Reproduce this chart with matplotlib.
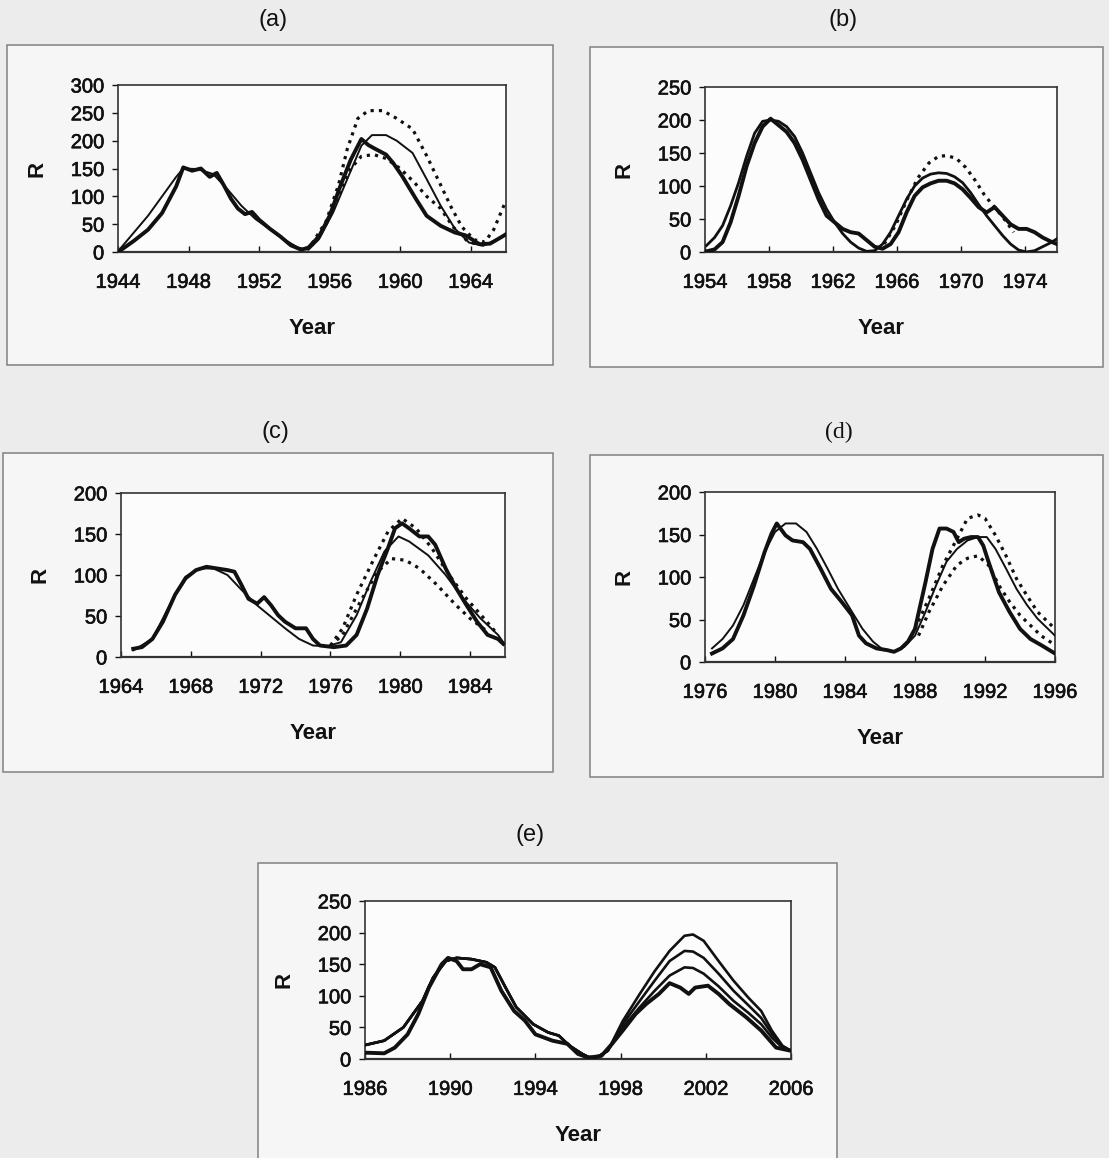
import matplotlib
matplotlib.use('Agg')
import matplotlib.pyplot as plt
import matplotlib.patheffects as pe
from matplotlib.patches import Rectangle

plt.rcParams['font.family'] = ['Liberation Sans', 'DejaVu Sans']

W, H = 1109, 1158

# ---- (a) 1944-1966 ----
a_obs_x = [1944.1, 1944.9, 1945.7, 1946.5, 1947.3, 1947.7, 1948.2, 1948.7, 1949.2, 1949.6,
           1950.0, 1950.4, 1950.8, 1951.2, 1951.6, 1952.0, 1952.6, 1953.2, 1953.8, 1954.4,
           1954.8, 1955.4, 1956.0, 1956.6, 1957.2, 1957.8, 1958.2, 1958.6, 1959.2, 1959.6,
           1960.1, 1960.9, 1961.5, 1962.3, 1963.1, 1963.7, 1964.5, 1965.1, 1965.8, 1966.0]
a_obs_y = [2, 20, 40, 70, 118, 152, 146, 150, 135, 142,
           120, 96, 78, 68, 72, 58, 42, 28, 12, 4,
           8, 28, 65, 118, 166, 203, 192, 185, 175, 160,
           137, 95, 65, 47, 35, 30, 14, 15, 28, 32]
a_rec_x = [1944.1, 1944.9, 1945.7, 1946.5, 1947.3, 1947.7, 1948.5, 1949.4, 1950.2, 1951.0,
           1951.8, 1952.6, 1953.4, 1954.2, 1954.8, 1955.4, 1956.2, 1957.0, 1957.8, 1958.4,
           1959.2, 1959.8, 1960.7, 1961.5, 1962.3, 1963.1, 1963.9, 1964.7, 1965.5, 1966.0]
a_rec_y = [5, 35, 65, 100, 135, 150, 149, 140, 113, 83,
           59, 41, 23, 8, 4, 23, 71, 131, 191, 210,
           210, 200, 178, 131, 83, 42, 17, 11, 23, 32]
a_up_x = [1955.0, 1955.8, 1956.5, 1957.0, 1957.6, 1958.2, 1959.0, 1959.8, 1960.7, 1961.5,
          1962.3, 1962.9, 1963.5, 1964.2, 1964.8, 1965.3, 1965.9]
a_up_y = [15, 55, 120, 185, 240, 254, 254, 240, 221, 173,
          120, 80, 45, 22, 18, 40, 85]
a_lo_x = [1955.0, 1955.8, 1956.5, 1957.2, 1957.8, 1958.5, 1959.2, 1960.0, 1960.8, 1961.5,
          1962.3, 1963.0, 1963.8, 1964.5]
a_lo_y = [12, 50, 100, 150, 172, 175, 168, 150, 125, 100,
          78, 45, 20, 12]

# ---- (b) 1954-1976 ----
b_x = [1954.1, 1954.6, 1955.1, 1955.6, 1956.1, 1956.6, 1957.1, 1957.6, 1958.1, 1958.6,
       1959.1, 1959.6, 1960.1, 1960.6, 1961.1, 1961.6, 1962.1, 1962.6, 1963.1, 1963.6,
       1964.1, 1964.6, 1965.1, 1965.6, 1966.1, 1966.6, 1967.1, 1967.6, 1968.1, 1968.6,
       1969.1, 1969.6, 1970.1, 1970.6, 1971.1, 1971.6, 1972.1, 1972.6, 1973.1, 1973.6,
       1974.1, 1974.6, 1975.1, 1975.6, 1976.0]
b_obs_y = [1, 4, 15, 45, 85, 130, 165, 190, 202, 192,
           182, 165, 140, 110, 80, 55, 45, 35, 30, 28,
           18, 8, 5, 12, 30, 60, 85, 98, 104, 108,
           108, 104, 95, 82, 68, 60, 68, 55, 42, 35,
           35, 30, 22, 16, 12]
b_rec_y = [10, 22, 40, 70, 105, 145, 180, 198, 200, 198,
           190, 175, 150, 120, 90, 65, 45, 28, 15, 6,
           1, 2, 12, 30, 55, 80, 100, 112, 118, 120,
           119, 114, 105, 90, 72, 55, 40, 25, 12, 3,
           0, 2, 8, 14, 20]
b_up_x = [1965.2, 1965.9, 1966.6, 1967.3, 1968.0, 1968.6, 1969.1, 1969.7, 1970.3, 1970.9,
          1971.5, 1972.1, 1972.7, 1973.3]
b_up_y = [12, 40, 78, 112, 135, 145, 146, 142, 128, 108,
          85, 68, 50, 30]

# ---- (c) 1964-1986 ----
c_obs_x = [1964.7, 1965.2, 1965.8, 1966.4, 1967.1, 1967.7, 1968.3, 1968.9, 1969.5, 1970.1,
           1970.5, 1970.9, 1971.3, 1971.8, 1972.2, 1972.6, 1973.0, 1973.4, 1974.0, 1974.6,
           1975.0, 1975.4, 1976.2, 1976.9, 1977.5, 1978.1, 1978.7, 1979.3, 1979.7, 1980.1,
           1980.5, 1981.1, 1981.6, 1982.0, 1982.6, 1983.2, 1983.8, 1984.4, 1985.0, 1985.6,
           1985.9]
c_obs_y = [10, 12, 22, 43, 76, 96, 106, 110, 108, 106,
           104, 88, 71, 65, 73, 63, 51, 43, 35, 35,
           22, 14, 12, 14, 27, 59, 100, 133, 157, 163,
           157, 147, 147, 137, 108, 84, 63, 43, 27, 22,
           16]
c_rec_x = [1964.7, 1965.8, 1966.4, 1967.1, 1967.7, 1968.5, 1969.3, 1970.1, 1970.9, 1971.8,
           1972.6, 1973.4, 1974.2, 1975.0, 1975.8, 1976.6, 1977.5, 1978.3, 1979.1, 1979.9,
           1980.5, 1981.6, 1982.6, 1983.6, 1984.6, 1985.6, 1985.9]
c_rec_y = [8, 22, 47, 76, 98, 108, 108, 100, 82, 63,
           49, 35, 22, 14, 13, 18, 51, 92, 129, 147,
           141, 124, 100, 71, 47, 27, 18]
c_up_x = [1976.0, 1976.7, 1977.5, 1978.5, 1979.3, 1980.1, 1980.9, 1981.8, 1982.8, 1983.8,
          1984.8, 1985.6]
c_up_y = [14, 35, 76, 120, 153, 169, 157, 133, 100, 71,
          47, 27]
c_lo_x = [1976.0, 1976.7, 1977.7, 1978.7, 1979.5, 1980.3, 1981.1, 1982.1, 1983.2, 1984.0,
          1985.0]
c_lo_y = [14, 27, 67, 104, 120, 118, 108, 88, 63, 47,
          31]

# ---- (d) 1976-1996 ----
d_obs_x = [1976.4, 1977.0, 1977.6, 1978.2, 1978.8, 1979.4, 1979.8, 1980.1, 1980.6, 1981.0,
           1981.6, 1982.0, 1982.6, 1983.2, 1983.8, 1984.4, 1984.8, 1985.2, 1985.8, 1986.4,
           1986.8, 1987.2, 1987.6, 1988.0, 1988.6, 1989.0, 1989.4, 1989.8, 1990.2, 1990.5,
           1990.8, 1991.2, 1991.6, 1991.9, 1992.2, 1992.8, 1993.4, 1994.0, 1994.6, 1995.2,
           1996.0]
d_obs_y = [10, 16, 27, 55, 90, 129, 151, 163, 149, 143,
           141, 133, 110, 86, 71, 55, 31, 22, 16, 14,
           12, 16, 24, 39, 94, 133, 157, 157, 153, 141,
           145, 147, 147, 137, 118, 82, 59, 39, 27, 20,
           10]
d_rec_x = [1976.4, 1977.0, 1977.6, 1978.2, 1978.8, 1979.4, 1980.0, 1980.6, 1981.2, 1981.8,
           1982.4, 1983.0, 1983.6, 1984.4, 1985.0, 1985.6, 1986.2, 1986.8, 1987.4, 1988.0,
           1988.6, 1989.2, 1989.8, 1990.4, 1991.0, 1991.6, 1992.1, 1992.6, 1993.2, 1993.8,
           1994.4, 1995.0, 1995.6, 1996.0]
d_rec_y = [16, 27, 43, 67, 98, 129, 153, 163, 163, 153,
           133, 110, 86, 59, 39, 24, 14, 12, 18, 31,
           59, 90, 118, 133, 143, 147, 147, 133, 110, 86,
           67, 51, 39, 31]
d_up_x = [1988.0, 1988.8, 1989.6, 1990.4, 1991.0, 1991.6, 1992.0, 1992.6, 1993.2, 1993.8,
          1994.4, 1995.0, 1995.6, 1996.0]
d_up_y = [39, 75, 114, 145, 169, 173, 169, 149, 125, 98,
          78, 59, 47, 39]
d_lo_x = [1988.2, 1988.8, 1989.6, 1990.4, 1991.0, 1991.6, 1992.2, 1992.8, 1993.4, 1994.0,
          1994.6, 1995.2, 1996.0]
d_lo_y = [31, 59, 90, 114, 122, 125, 114, 90, 71, 55,
          43, 31, 20]

# ---- (e) 1986-2006 ----
e_obs_x = [1986.0, 1986.9, 1987.4, 1988.0, 1988.5, 1989.0, 1989.6, 1989.9, 1990.3, 1990.6,
           1991.0, 1991.4, 1991.9, 1992.4, 1993.0, 1993.5, 1994.0, 1994.8, 1995.5, 1996.0,
           1996.5, 1997.1, 1997.6, 1998.1, 1998.7, 1999.2, 1999.8, 2000.3, 2000.8, 2001.2,
           2001.5, 2002.1, 2002.6, 2003.1, 2003.9, 2004.6, 2005.3, 2006.0]
e_obs_y = [10, 9, 18, 39, 71, 113, 150, 160, 155, 142,
           142, 150, 145, 108, 76, 61, 39, 29, 24, 8,
           2, 5, 24, 45, 71, 87, 103, 120, 113, 103,
           113, 116, 103, 87, 66, 45, 18, 13]
e_rec_x = [1986.0, 1986.9, 1987.8, 1988.7, 1989.2, 1989.8, 1990.3, 1991.0, 1991.7, 1992.1,
           1992.6, 1993.1, 1993.9, 1994.6, 1995.1, 1995.6, 1996.2, 1996.5, 1996.9, 1997.4]
e_rec_y = [22, 29, 50, 92, 129, 155, 160, 158, 153, 145,
           113, 82, 55, 42, 37, 21, 8, 3, 3, 13]
e_fc_x = [1998.1, 1998.9, 1999.6, 2000.3, 2001.0, 2001.4, 2001.9, 2002.6, 2003.3, 2004.0,
          2004.6, 2005.1, 2005.6, 2006.0]
e_hi_y = [60, 103, 139, 171, 195, 197, 187, 155, 124, 97, 76, 45, 21, 13]
e_mid_y = [55, 92, 124, 155, 171, 170, 160, 135, 108, 85, 65, 40, 20, 13]
e_lo_y = [50, 82, 108, 132, 145, 144, 135, 115, 92, 73, 55, 34, 18, 13]

# styles
thick = dict(color='#111111', lw=2.8, solid_joinstyle='round', zorder=3)
thin = dict(color='#111111', lw=1.4, zorder=4)
dotted = dict(color='#111111', lw=2.3, linestyle=(0, (1, 1.6)), zorder=3)
heavy = [pe.withStroke(linewidth=0.45, foreground='#111111')]

fig = plt.figure(figsize=(W / 100, H / 100), dpi=100, facecolor='#ececec')


def frame(x0, x1, y0, y1):
    # outer box round one panel (pixel coords, top-left origin)
    fig.patches.append(Rectangle((x0 / W, 1 - y1 / H), (x1 - x0) / W, (y1 - y0) / H,
                                 transform=fig.transFigure, facecolor='#f6f6f6',
                                 edgecolor='#808080', lw=1.1, zorder=-5))


def panel(x0, x1, y0, y1, xlim, ymax, xticks, title, tx, ty, title_font=None):
    ax = fig.add_axes([x0 / W, 1 - y1 / H, (x1 - x0) / W, (y1 - y0) / H])
    ax.set_zorder(2)
    ax.set_facecolor('#fcfcfc')
    ax.set_xlim(*xlim)
    ax.set_ylim(0, ymax)
    ax.set_xticks(xticks)
    ax.set_xticklabels([str(t) for t in xticks])
    ax.set_yticks(range(0, ymax + 1, 50))
    ax.tick_params(axis='x', direction='in', length=4, pad=15, labelsize=14.5,
                   colors='#111111', width=1)
    ax.tick_params(axis='y', direction='out', length=4, pad=6, labelsize=14.5,
                   colors='#111111', width=1)
    for lab in ax.get_xticklabels() + ax.get_yticklabels():
        lab.set_path_effects(heavy)
    for s in ax.spines.values():
        s.set_color('#333333')
        s.set_linewidth(1.2)
    ax.spines['bottom'].set_linewidth(1.6)
    ax.set_xlabel('Year', fontsize=16, fontweight='bold', labelpad=19, color='#111111')
    ax.set_ylabel('R', fontsize=16, fontweight='bold', labelpad=17, color='#111111')
    kw = {'family': title_font} if title_font else {}
    fig.text(tx / W, 1 - ty / H, title, ha='center', va='center', fontsize=17,
             color='#111111', **kw)
    return ax


frame(7, 553, 45, 365)
frame(590, 1103, 47, 367)
frame(3, 553, 453, 772)
frame(590, 1103, 455, 777)
frame(258, 837, 863, 1170)

# (a)
ax = panel(118, 506, 85, 252, (1944, 1966), 300, [1944, 1948, 1952, 1956, 1960, 1964],
           '(a)', 273, 20)
ax.plot(a_obs_x, a_obs_y, **thick)
ax.plot(a_rec_x, a_rec_y, **thin)
ax.plot(a_up_x, a_up_y, **dotted)
ax.plot(a_lo_x, a_lo_y, **dotted)

# (b)
ax = panel(705, 1057, 87, 252, (1954, 1976), 250, [1954, 1958, 1962, 1966, 1970, 1974],
           '(b)', 843, 20)
ax.plot(b_x, b_obs_y, **thick)
ax.plot(b_x, b_rec_y, color='#111111', lw=2.0, zorder=4)
ax.plot(b_up_x, b_up_y, **dotted)

# (c)
ax = panel(121, 505, 493, 657, (1964, 1986), 200, [1964, 1968, 1972, 1976, 1980, 1984],
           '(c)', 275, 432)
ax.plot(c_obs_x, c_obs_y, **thick)
ax.plot(c_rec_x, c_rec_y, **thin)
ax.plot(c_up_x, c_up_y, **dotted)
ax.plot(c_lo_x, c_lo_y, **dotted)

# (d)
ax = panel(705, 1055, 492, 662, (1976, 1996), 200, [1976, 1980, 1984, 1988, 1992, 1996],
           '(d)', 839, 432, title_font='Liberation Serif')
ax.plot(d_obs_x, d_obs_y, **thick)
ax.plot(d_rec_x, d_rec_y, **thin)
ax.plot(d_up_x, d_up_y, **dotted)
ax.plot(d_lo_x, d_lo_y, **dotted)

# (e)
ax = panel(365, 791, 901, 1059, (1986, 2006), 250, [1986, 1990, 1994, 1998, 2002, 2006],
           '(e)', 530, 835)
ax.plot(e_obs_x, e_obs_y, **thick)
for fy in (e_hi_y, e_mid_y, e_lo_y):
    ax.plot(e_rec_x + e_fc_x, e_rec_y + fy, color='#111111', lw=1.9, zorder=4)

fig.savefig('out.png', dpi=100, facecolor=fig.get_facecolor())
